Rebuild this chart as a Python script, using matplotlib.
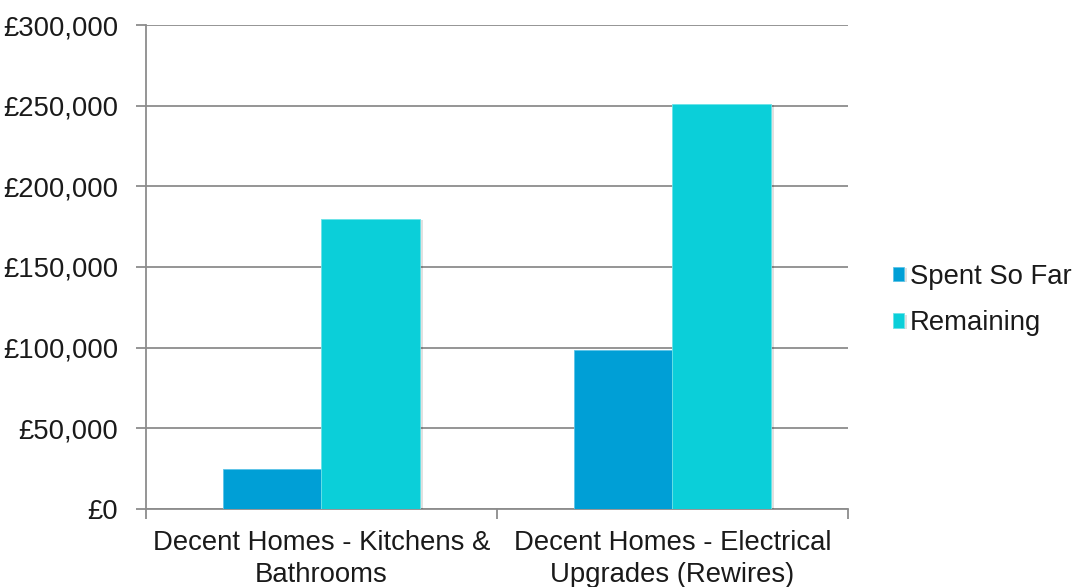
import matplotlib.pyplot as plt
import matplotlib.patheffects as pe
from matplotlib import ticker
import numpy as np

categories = ['Decent Homes - Kitchens &\nBathrooms', 'Decent Homes - Electrical\nUpgrades (Rewires)']
spent = [25000, 98500]
remaining = [180000, 251000]
series_names = ['Spent So Far', 'Remaining']
colors = ['#009fd6', '#0bcfd9']

plt.rcParams['font.family'] = ['Liberation Sans', 'DejaVu Sans']

fig = plt.figure(figsize=(10.75, 5.87), dpi=100)
ax = fig.add_axes([0.1358, 0.1329, 0.6530, 0.8245])

x = np.arange(len(categories))
w = 0.28
shadow = [pe.SimplePatchShadow(offset=(2, -1), shadow_rgbFace='#000000', alpha=0.12), pe.Normal()]
b1 = ax.bar(x - w / 2, spent, w, color=colors[0], edgecolor='#5cc4e8', linewidth=0.6,
            label=series_names[0], zorder=3)
b2 = ax.bar(x + w / 2, remaining, w, color=colors[1], edgecolor='#6ae3e8', linewidth=0.6,
            label=series_names[1], zorder=3)
for bars in (b1, b2):
    for p in bars:
        p.set_path_effects(shadow)

ax.set_xlim(-0.5, len(categories) - 0.5)
ax.set_ylim(0, 300000)
ax.yaxis.set_major_locator(ticker.MultipleLocator(50000))
ax.yaxis.set_major_formatter(ticker.FuncFormatter(lambda v, p: '£{:,.0f}'.format(v)))
ax.grid(axis='y', color='#8c8c8c', linewidth=1.3, zorder=0)
ax.set_axisbelow(True)

# category boundaries as major ticks, labels on minor ticks
ax.set_xticks(np.arange(len(categories) + 1) - 0.5)
ax.set_xticklabels([])
ax.set_xticks(x, minor=True)
ax.set_xticklabels(categories, minor=True, fontsize=19.8, color='#1a1a1a', linespacing=1.3)
ax.tick_params(axis='x', which='minor', length=0, pad=15)
ax.tick_params(axis='x', which='major', length=7, color='#8c8c8c', width=1.3)
ax.tick_params(axis='y', length=7, color='#8c8c8c', width=1.3, labelsize=19.8,
               labelcolor='#1a1a1a', pad=13)

for s in ['top', 'right']:
    ax.spines[s].set_visible(False)
for s in ['left', 'bottom']:
    ax.spines[s].set_color('#8c8c8c')
    ax.spines[s].set_linewidth(1.3)

leg = ax.legend(loc='center left', bbox_to_anchor=(0.8175, 0.489), bbox_transform=fig.transFigure,
                frameon=False, fontsize=19.8, handlelength=0.42, handleheight=0.42,
                handletextpad=0.2, labelspacing=0.75, borderpad=0)
for t in leg.get_texts():
    t.set_color('#1a1a1a')

fig.savefig('out.png', dpi=100)
